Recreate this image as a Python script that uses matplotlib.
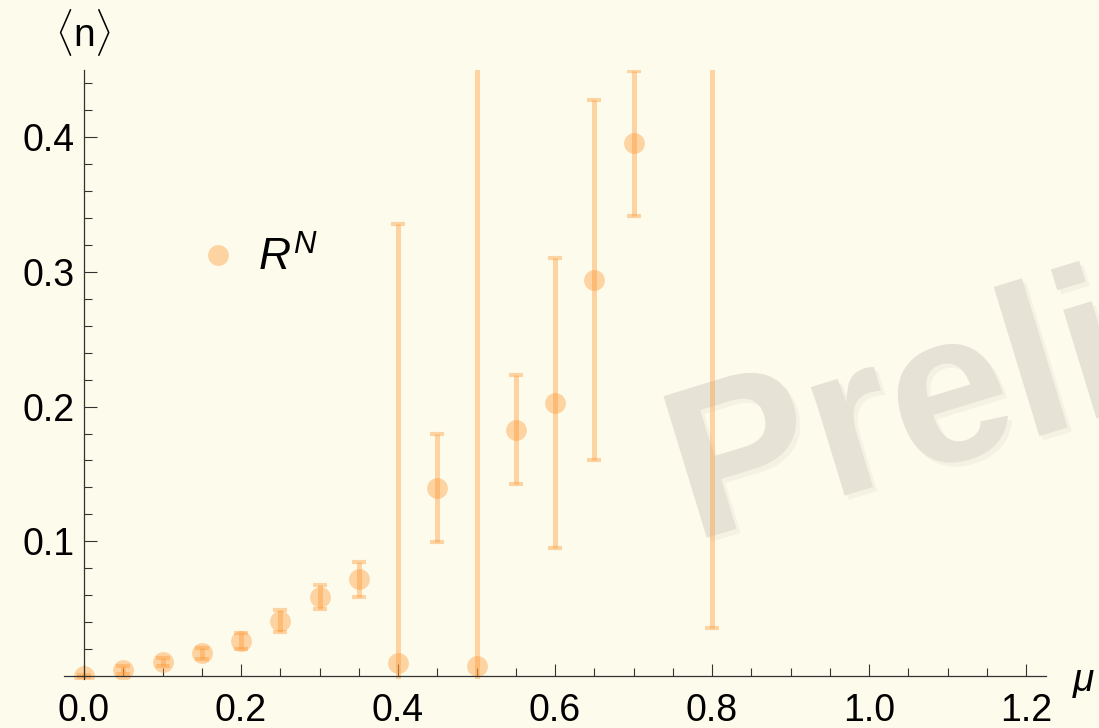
import matplotlib
matplotlib.use("Agg")
import matplotlib.pyplot as plt
import matplotlib.patheffects as pe
from matplotlib.lines import Line2D
import numpy as np

# data
mu = [0.0, 0.05, 0.10, 0.15, 0.20, 0.25, 0.30, 0.35, 0.40, 0.45,
      0.50, 0.55, 0.60, 0.65, 0.70, 0.80]
n_mean = [0.0, 0.0045, 0.0106, 0.0168, 0.0257, 0.0408, 0.0589, 0.072,
          0.0099, 0.1396, 0.0077, 0.183, 0.2027, 0.294, 0.3955, 0.53]
n_err = [0.001, 0.003, 0.003, 0.004, 0.006, 0.008, 0.009, 0.013,
         0.326, 0.040, 0.55, 0.0405, 0.1075, 0.134, 0.054, 0.494]

x_major = [0.0, 0.2, 0.4, 0.6, 0.8, 1.0, 1.2]
y_major = [0.1, 0.2, 0.3, 0.4]

BG = "#FDFBEC"
ORANGE = "#FF9933"

plt.rcParams["font.family"] = ["Liberation Sans", "DejaVu Sans"]
plt.rcParams["mathtext.fontset"] = "custom"
plt.rcParams["mathtext.rm"] = "Liberation Sans"
plt.rcParams["mathtext.it"] = "Liberation Sans:italic"

fig = plt.figure(figsize=(10.99, 7.28), dpi=100, facecolor=BG)
ax = fig.add_axes([0.0586, 0.0668, 0.8929, 0.8372])
ax.patch.set_visible(False)

# watermark behind the data (cut off by the right edge, as in the original)
fig.text(0.6306, 0.2555, "Preliminary", fontsize=155, fontweight="bold",
         color="#E6E3D6", rotation=17, rotation_mode="anchor",
         ha="left", va="baseline", zorder=-1,
         path_effects=[pe.SimplePatchShadow(offset=(3, -3), shadow_rgbFace="#DCD9CB", alpha=0.25),
                       pe.Normal()])

ax.errorbar(mu, n_mean, yerr=n_err, fmt="o", color=ORANGE, alpha=0.4,
            markersize=15, markeredgecolor="none", elinewidth=3.6,
            capsize=5, capthick=3)

ax.set_xlim(-0.025, 1.225)
ax.set_ylim(-0.0025, 0.45)

ax.spines["left"].set_position(("data", 0))
ax.spines["bottom"].set_position(("data", 0))
ax.spines["top"].set_visible(False)
ax.spines["right"].set_visible(False)
for s in ("left", "bottom"):
    ax.spines[s].set_color("#333333")
    ax.spines[s].set_linewidth(0.9)

ax.set_xticks(x_major)
ax.set_xticklabels([f"{v:.1f}" for v in x_major])
ax.set_xticks(np.arange(0.05, 1.21, 0.05), minor=True)
ax.set_yticks(y_major)
ax.set_yticklabels([f"{v:.1f}" for v in y_major])
ax.set_yticks(np.arange(0.02, 0.45, 0.02), minor=True)

ax.tick_params(which="both", direction="in", color="#333333", width=0.8, labelsize=27)
ax.tick_params(which="major", length=9)
ax.tick_params(which="minor", length=5.5)
ax.tick_params(axis="x", pad=12)
ax.tick_params(axis="y", pad=7)

# axis labels, Mathematica style at the ends of the axes
fig.text(83 / 1099, 1 - 33 / 728, r"$\langle$n$\rangle$", fontsize=28,
         ha="center", va="center")
fig.text(1084 / 1099, 1 - 682 / 728, r"$\mu$", fontsize=28,
         ha="center", va="center")

handle = Line2D([], [], linestyle="none", marker="o", markersize=15,
                markeredgecolor="none", color=ORANGE, alpha=0.4)
ax.legend([handle], [r"$R^N$"], loc="center left",
          bbox_to_anchor=(0.1799, 0.6456), bbox_transform=fig.transFigure,
          frameon=False, fontsize=32, handlelength=0.9, handletextpad=0.45,
          borderpad=0, borderaxespad=0)

fig.savefig("out.png", dpi=100, facecolor=BG)
